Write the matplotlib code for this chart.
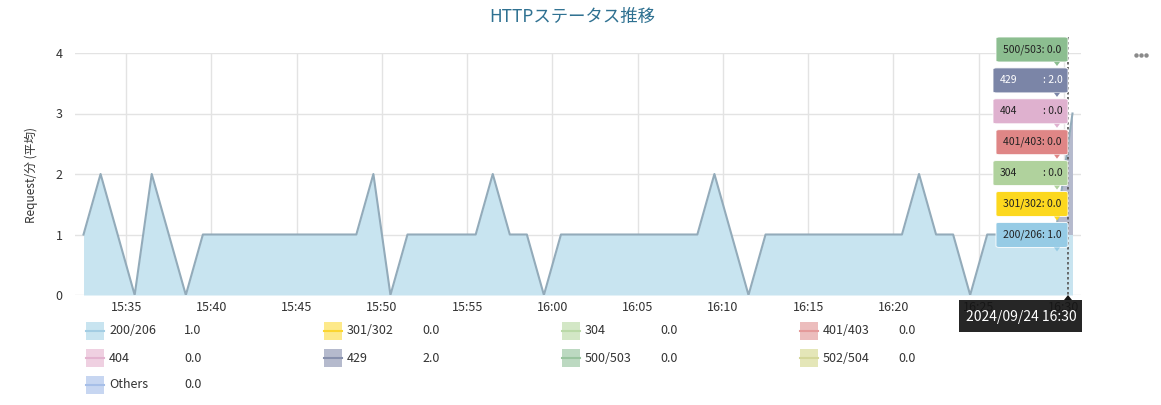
import matplotlib
matplotlib.use("Agg")
import matplotlib.pyplot as plt
import matplotlib.dates as mdates
from matplotlib.patches import FancyBboxPatch, Rectangle, Polygon
import numpy as np
import pandas as pd

plt.rcParams['font.family'] = ['Noto Sans CJK JP', 'DejaVu Sans']

# ---------------- data ----------------
title = "HTTPステータス推移"
ylabel = "Request/分 (平均)"
start_time = "2024-09-24 15:32:30"
n_points = 59
series_names = ["200/206", "301/302", "304", "401/403", "404", "429", "500/503", "502/504", "Others"]
s200 = [1, 2, 1, 0, 2, 1, 0, 1,
        1, 1, 1, 1, 1, 1, 1, 1, 1,
        2, 0, 1, 1, 1, 1, 1, 2, 1, 1, 0,
        1, 1, 1, 1, 1, 1, 1, 1, 1,
        2, 1, 0, 1,
        1, 1, 1, 1, 1, 1, 1, 1,
        2, 1, 1, 0, 1, 1, 1, 1, 1, 1]
s301 = [0] * 59
s304 = [0] * 59
s401 = [0] * 59
s404 = [0] * 59
s429 = [0] * 58 + [2]
s500 = [0] * 59
s502 = [0] * 59
sother = [0] * 59
latest_values = [1.0, 0.0, 0.0, 0.0, 0.0, 2.0, 0.0, 0.0, 0.0]
tooltip_order = ["500/503", "429", "404", "401/403", "304", "301/302", "200/206"]
tooltip_time = "2024/09/24 16:30"
xtick_labels = ["15:35", "15:40", "15:45", "15:50", "15:55", "16:00",
                "16:05", "16:10", "16:15", "16:20", "16:25", "16:30"]
yticks = [0, 1, 2, 3, 4]

# ---------------- styles ----------------
fill_colors = ["#c8e4f0", "#fde98a", "#d3e7c6", "#ecbdbd", "#efd0e1",
               "#b5bacd", "#bcd9c1", "#e4e6b8", "#c7d6f1"]
line_colors = ["#a3cde3", "#fbd530", "#bad9a7", "#e49a9a", "#e3b3cf",
               "#8790ad", "#99c49f", "#d4d79a", "#a7bfe8"]
tip_colors = {"500/503": "#8cbe90", "429": "#7b85a7", "404": "#dfb1cf",
              "401/403": "#df8686", "304": "#b0d29d", "301/302": "#fcd81f",
              "200/206": "#96cbe5"}

W, H = 1161, 405
fig = plt.figure(figsize=(W / 100, H / 100), dpi=100)

def fx(px):
    return px / W

def fy(py):
    return 1 - py / H

ax_left, ax_right, ax_top, ax_bot = 75, 1081, 53, 295
ax = fig.add_axes([fx(ax_left), fy(ax_bot), fx(ax_right - ax_left), (ax_bot - ax_top) / H])

times = pd.date_range(start_time, periods=n_points, freq="1min")
all_series = [s200, s301, s304, s401, s404, s429, s500, s502, sother]
xs = mdates.date2num(times.to_pydatetime())
base = np.zeros(n_points)
for vals, fc in zip(all_series, fill_colors):
    top = base + np.array(vals, dtype=float)
    ax.fill_between(xs, base, top, color=fc, lw=0, zorder=2)
    base = top
ax.plot(xs, base, color="#93abba", lw=1.5, zorder=3)

ax.set_ylim(0, 4)
ax.set_yticks(yticks)
x0 = mdates.date2num(pd.Timestamp("2024-09-24 15:32:00"))
x1 = mdates.date2num(pd.Timestamp("2024-09-24 16:31:00"))
ax.set_xlim(x0, x1)
tick_pos = [mdates.date2num(pd.Timestamp("2024-09-24 " + t)) for t in xtick_labels]
ax.set_xticks(tick_pos)
ax.set_xticklabels(xtick_labels)
ax.grid(True, color="#e3e3e3", lw=1, zorder=0)
ax.set_axisbelow(True)
for sp in ax.spines.values():
    sp.set_visible(False)
ax.tick_params(axis="both", length=0, labelsize=9, colors="#333333")
ax.tick_params(axis="x", pad=4)
ax.tick_params(axis="y", pad=9)

fig.text(fx(572), fy(17), title, ha="center", va="center", fontsize=12.5, color="#2f7191")
fig.text(fx(31), fy(175), ylabel, ha="center", va="center", rotation=90, fontsize=8.5, color="#333333")

# menu dots
fig.lines.append(plt.Line2D([fx(1136), fx(1141), fx(1146)], [fy(55)] * 3, transform=fig.transFigure,
                            ls="none", marker="o", markersize=3.2, color="#8a8a8a", mew=0))

# legend
col_x = [86, 324, 562, 800]
row_y = [331, 358, 385]
for i, name in enumerate(series_names):
    r, c = divmod(i, 4)
    px, py = col_x[c], row_y[r]
    fig.patches.append(Rectangle((fx(px), fy(py + 9)), 18 / W, 18 / H,
                                 transform=fig.transFigure, color=fill_colors[i], lw=0))
    fig.lines.append(plt.Line2D([fx(px), fx(px + 18)], [fy(py), fy(py)],
                                transform=fig.transFigure, color=line_colors[i], lw=1.5))
    fig.text(fx(px + 23), fy(py), name, ha="left", va="center", fontsize=9, color="#333333")
    fig.text(fx(px + 98), fy(py), f"{latest_values[i]:.1f}", ha="left", va="center",
             fontsize=9, color="#333333")

# hover dotted line
fig.lines.append(plt.Line2D([fx(1068), fx(1068)], [fy(37), fy(297)], transform=fig.transFigure,
                            color="#555555", lw=1.2, ls=(0, (1.5, 1.5)), zorder=5))

# tooltips
tip_top = 37
for k, name in enumerate(tooltip_order):
    idx = series_names.index(name)
    val = latest_values[idx]
    y_top = tip_top + k * 30.9
    short = len(name) <= 3
    left = 993 if short else 996
    right = 1068
    h = 25
    col = tip_colors[name]
    box = FancyBboxPatch((fx(left), fy(y_top + h)), (right - left) / W, h / H,
                         boxstyle="round,pad=0,rounding_size=0.003", transform=fig.transFigure,
                         facecolor=col, edgecolor="white", lw=0.6, zorder=6)
    fig.patches.append(box)
    tri = Polygon([(fx(1054), fy(y_top + h)), (fx(1060), fy(y_top + h)), (fx(1057), fy(y_top + h + 4))],
                  closed=True, transform=fig.transFigure, facecolor=col, edgecolor="none", zorder=6)
    fig.patches.append(tri)
    tcol = "white" if name == "429" else "#222222"
    ymid = fy(y_top + h / 2)
    if short:
        fig.text(fx(left + 7), ymid, name, ha="left", va="center", fontsize=7.5, color=tcol, zorder=7)
        fig.text(fx(right - 5), ymid, f": {val:.1f}", ha="right", va="center", fontsize=7.5,
                 color=tcol, zorder=7)
    else:
        fig.text(fx((left + right) / 2), ymid, f"{name}: {val:.1f}", ha="center", va="center",
                 fontsize=7.5, color=tcol, zorder=7)

# time tooltip
tbox = Rectangle((fx(959), fy(332)), (1082 - 959) / W, 32 / H, transform=fig.transFigure,
                 facecolor="#151515", edgecolor="none", alpha=0.93, zorder=6)
fig.patches.append(tbox)
fig.patches.append(Polygon([(fx(1064), fy(300)), (fx(1072), fy(300)), (fx(1068), fy(295))], closed=True,
                           transform=fig.transFigure, facecolor="#151515", edgecolor="none", zorder=6))
fig.text(fx(1021), fy(317), tooltip_time, ha="center", va="center", fontsize=10, color="white", zorder=7)

fig.savefig("out.png", dpi=100)
